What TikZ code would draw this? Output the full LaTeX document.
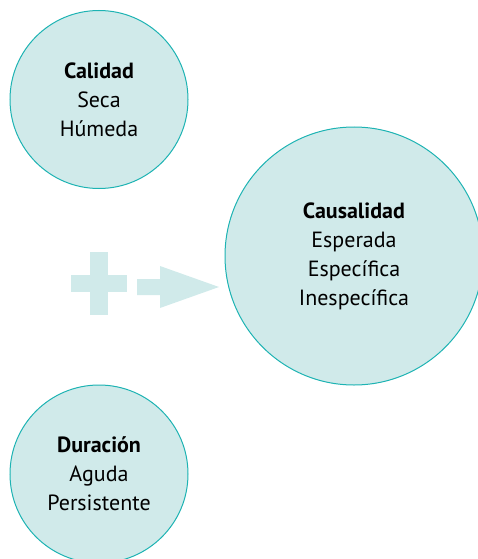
\documentclass[tikz,border=0pt]{standalone}
\usepackage{fontspec}
\setmainfont{PT Sans}
\definecolor{circfill}{HTML}{D0EAEA}
\definecolor{circline}{HTML}{1DB3B3}
\tikzset{
  bubble/.style={circle, draw=circline, fill=circfill, line width=1pt, inner sep=0pt, align=center,
    font=\fontsize{22}{29}\selectfont},
}
\begin{document}
\begin{tikzpicture}[x=1pt, y=-1pt]
\useasboundingbox (0,0) rectangle (477,559);
\node[bubble, minimum size=178pt] (calidad) at (99,99.5){\textbf{Calidad}\\Seca\\Húmeda};
\node[bubble, minimum size=258pt] (causalidad) at (354,256){\textbf{Causalidad}\\Esperada\\Específica\\Inespecífica};
\node[bubble, minimum size=178pt] (duracion) at (99,474){\textbf{Duración}\\Aguda\\Persistente};
% plus sign
\fill[circfill] (90,252) rectangle (108,315);
\fill[circfill] (71,275) rectangle (127,292);
% block arrow
\fill[circfill] (137,279) -- (160,279) -- (160,266) -- (219,287) -- (160,308) -- (160,295) -- (137,295) -- cycle;
\end{tikzpicture}
\end{document}
